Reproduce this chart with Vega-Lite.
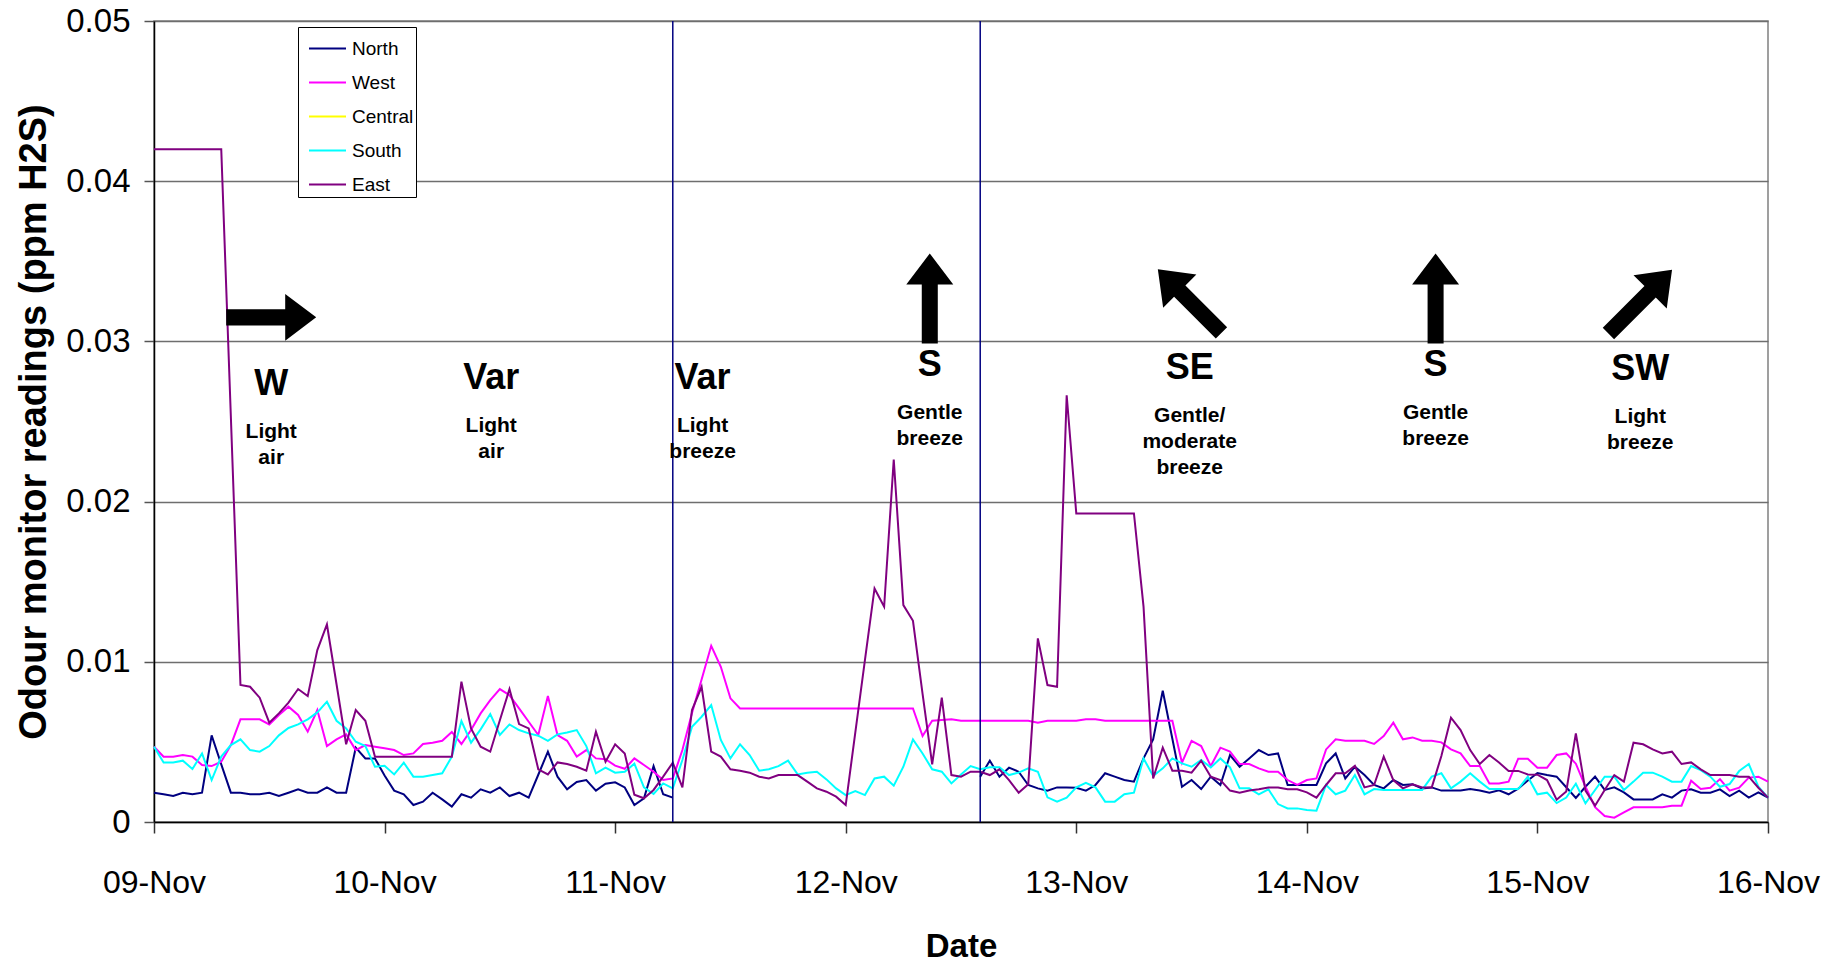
{
  "$schema": "https://vega.github.io/schema/vega-lite/v6.json",
  "width": 1614,
  "height": 801,
  "autosize": {"type": "none"},
  "padding": {"left": 154, "top": 21, "right": 70, "bottom": 140},
  "background": "white",
  "config": {
    "font": "Liberation Sans",
    "view": {"stroke": "#808080", "strokeWidth": 1.5},
    "axis": {"labelColor": "#000", "titleColor": "#000", "labelFont": "Liberation Sans", "titleFont": "Liberation Sans"},
    "legend": {"labelFont": "Liberation Sans"}
  },
  "datasets": {
    "readings": [
      {"d":"2008-11-09T00:00","North":0.00183,"West":0.0047,"South":0.0047,"East":0.042},
      {"d":"2008-11-09T01:00","North":0.00173,"West":0.00408,"South":0.00372,"East":0.042},
      {"d":"2008-11-09T02:00","North":0.00162,"West":0.00408,"South":0.00372,"East":0.042},
      {"d":"2008-11-09T03:00","North":0.00183,"West":0.00418,"South":0.00383,"East":0.042},
      {"d":"2008-11-09T04:00","North":0.00173,"West":0.00408,"South":0.00331,"East":0.042},
      {"d":"2008-11-09T05:00","North":0.00183,"West":0.00356,"South":0.00428,"East":0.042},
      {"d":"2008-11-09T06:00","North":0.00541,"West":0.00349,"South":0.00262,"East":0.042},
      {"d":"2008-11-09T07:00","North":0.0036,"West":0.00376,"South":0.00408,"East":0.042},
      {"d":"2008-11-09T08:00","North":0.00183,"West":0.0048,"South":0.0048,"East":0.0253},
      {"d":"2008-11-09T09:00","North":0.00183,"West":0.00641,"South":0.00516,"East":0.00855},
      {"d":"2008-11-09T10:00","North":0.00173,"West":0.00641,"South":0.00449,"East":0.00844},
      {"d":"2008-11-09T11:00","North":0.00173,"West":0.00641,"South":0.00439,"East":0.00776},
      {"d":"2008-11-09T12:00","North":0.00183,"West":0.00609,"South":0.00474,"East":0.0062},
      {"d":"2008-11-09T13:00","North":0.00162,"West":0.00668,"South":0.00541,"East":0.00678},
      {"d":"2008-11-09T14:00","North":0.00183,"West":0.0072,"South":0.00587,"East":0.00745},
      {"d":"2008-11-09T15:00","North":0.00204,"West":0.00668,"South":0.00609,"East":0.0083},
      {"d":"2008-11-09T16:00","North":0.00183,"West":0.00564,"South":0.00641,"East":0.00786},
      {"d":"2008-11-09T17:00","North":0.00183,"West":0.00699,"South":0.00684,"East":0.01073},
      {"d":"2008-11-09T18:00","North":0.00216,"West":0.00474,"South":0.00751,"East":0.01233},
      {"d":"2008-11-09T19:00","North":0.00183,"West":0.00516,"South":0.00632,"East":0.0086},
      {"d":"2008-11-09T20:00","North":0.00183,"West":0.00547,"South":0.00584,"East":0.00485},
      {"d":"2008-11-09T21:00","North":0.00464,"West":0.00449,"South":0.00501,"East":0.00699},
      {"d":"2008-11-09T22:00","North":0.00397,"West":0.0048,"South":0.00474,"East":0.00632},
      {"d":"2008-11-09T23:00","North":0.00397,"West":0.0047,"South":0.00345,"East":0.00408},
      {"d":"2008-11-10T00:00","North":0.0029,"West":0.0046,"South":0.00351,"East":0.00408},
      {"d":"2008-11-10T01:00","North":0.00196,"West":0.00449,"South":0.00297,"East":0.00408},
      {"d":"2008-11-10T02:00","North":0.00173,"West":0.00418,"South":0.0037,"East":0.00408},
      {"d":"2008-11-10T03:00","North":0.00106,"West":0.00428,"South":0.00283,"East":0.00408},
      {"d":"2008-11-10T04:00","North":0.00127,"West":0.00487,"South":0.00283,"East":0.00408},
      {"d":"2008-11-10T05:00","North":0.00183,"West":0.00495,"South":0.00293,"East":0.00408},
      {"d":"2008-11-10T06:00","North":0.00141,"West":0.00507,"South":0.00304,"East":0.00408},
      {"d":"2008-11-10T07:00","North":0.00096,"West":0.00562,"South":0.00408,"East":0.00408},
      {"d":"2008-11-10T08:00","North":0.00173,"West":0.00487,"South":0.0063,"East":0.00876},
      {"d":"2008-11-10T09:00","North":0.00152,"West":0.00574,"South":0.00495,"East":0.00584},
      {"d":"2008-11-10T10:00","North":0.00204,"West":0.00678,"South":0.00578,"East":0.0047},
      {"d":"2008-11-10T11:00","North":0.00183,"West":0.00761,"South":0.00674,"East":0.00439},
      {"d":"2008-11-10T12:00","North":0.00216,"West":0.0083,"South":0.00543,"East":0.00635},
      {"d":"2008-11-10T13:00","North":0.00162,"West":0.00792,"South":0.00609,"East":0.0083},
      {"d":"2008-11-10T14:00","North":0.00183,"West":0.00709,"South":0.00574,"East":0.00611},
      {"d":"2008-11-10T15:00","North":0.00152,"West":0.00626,"South":0.00553,"East":0.00584},
      {"d":"2008-11-10T16:00","North":0.00295,"West":0.00543,"South":0.00539,"East":0.00329},
      {"d":"2008-11-10T17:00","North":0.00439,"West":0.00786,"South":0.00507,"East":0.00297},
      {"d":"2008-11-10T18:00","North":0.00283,"West":0.00543,"South":0.00547,"East":0.00372},
      {"d":"2008-11-10T19:00","North":0.00204,"West":0.00507,"South":0.00559,"East":0.00362},
      {"d":"2008-11-10T20:00","North":0.0025,"West":0.00408,"South":0.00574,"East":0.00345},
      {"d":"2008-11-10T21:00","North":0.00262,"West":0.00449,"South":0.00474,"East":0.0032},
      {"d":"2008-11-10T22:00","North":0.00196,"West":0.00397,"South":0.00304,"East":0.00564},
      {"d":"2008-11-10T23:00","North":0.00239,"West":0.00392,"South":0.00339,"East":0.00376},
      {"d":"2008-11-11T00:00","North":0.00248,"West":0.00352,"South":0.00308,"East":0.00485},
      {"d":"2008-11-11T01:00","North":0.00216,"West":0.00332,"South":0.00314,"East":0.00428},
      {"d":"2008-11-11T02:00","North":0.00106,"West":0.00397,"South":0.00364,"East":0.0017},
      {"d":"2008-11-11T03:00","North":0.00148,"West":0.00356,"South":0.00216,"East":0.00148},
      {"d":"2008-11-11T04:00","North":0.00349,"West":0.00314,"South":0.00175,"East":0.002},
      {"d":"2008-11-11T05:00","North":0.00173,"West":0.00262,"South":0.00241,"East":0.00283},
      {"d":"2008-11-11T06:00","North":0.00152,"West":0.00272,"South":0.0021,"East":0.0037},
      {"d":"2008-11-11T07:00","North":null,"West":0.00449,"South":0.00387,"East":0.00216},
      {"d":"2008-11-11T08:00","North":null,"West":0.0068,"South":0.00595,"East":0.00699},
      {"d":"2008-11-11T09:00","North":null,"West":0.0089,"South":0.00657,"East":0.00844},
      {"d":"2008-11-11T10:00","North":null,"West":0.011,"South":0.0073,"East":0.00439},
      {"d":"2008-11-11T11:00","North":null,"West":0.00969,"South":0.00512,"East":0.00408},
      {"d":"2008-11-11T12:00","North":null,"West":0.00772,"South":0.00397,"East":0.00329},
      {"d":"2008-11-11T13:00","North":null,"West":0.00709,"South":0.00485,"East":0.0032},
      {"d":"2008-11-11T14:00","North":null,"West":0.00709,"South":0.00418,"East":0.00308},
      {"d":"2008-11-11T15:00","North":null,"West":0.00709,"South":0.0032,"East":0.00283},
      {"d":"2008-11-11T16:00","North":null,"West":0.00709,"South":0.00329,"East":0.00272},
      {"d":"2008-11-11T17:00","North":null,"West":0.00709,"South":0.00349,"East":0.00293},
      {"d":"2008-11-11T18:00","North":null,"West":0.00709,"South":0.00383,"East":0.00293},
      {"d":"2008-11-11T19:00","North":null,"West":0.00709,"South":0.00297,"East":0.00293},
      {"d":"2008-11-11T20:00","North":null,"West":0.00709,"South":0.00308,"East":0.00252},
      {"d":"2008-11-11T21:00","North":null,"West":0.00709,"South":0.00314,"East":0.0021},
      {"d":"2008-11-11T22:00","North":null,"West":0.00709,"South":0.00266,"East":0.00189},
      {"d":"2008-11-11T23:00","North":null,"West":0.00709,"South":0.0021,"East":0.00158},
      {"d":"2008-11-12T00:00","North":null,"West":0.00709,"South":0.00168,"East":0.00106},
      {"d":"2008-11-12T01:00","North":null,"West":0.00709,"South":0.00193,"East":0.0056},
      {"d":"2008-11-12T02:00","North":null,"West":0.00709,"South":0.00168,"East":0.0101},
      {"d":"2008-11-12T03:00","North":null,"West":0.00709,"South":0.00272,"East":0.01458},
      {"d":"2008-11-12T04:00","North":null,"West":0.00709,"South":0.00283,"East":0.01344},
      {"d":"2008-11-12T05:00","North":null,"West":0.00709,"South":0.00227,"East":0.02263},
      {"d":"2008-11-12T06:00","North":null,"West":0.00709,"South":0.00345,"East":0.01354},
      {"d":"2008-11-12T07:00","North":null,"West":0.00709,"South":0.00516,"East":0.01256},
      {"d":"2008-11-12T08:00","North":null,"West":0.00537,"South":0.00428,"East":0.008},
      {"d":"2008-11-12T09:00","North":null,"West":0.00632,"South":0.00329,"East":0.0036},
      {"d":"2008-11-12T10:00","North":null,"West":0.00636,"South":0.00314,"East":0.00776},
      {"d":"2008-11-12T11:00","North":null,"West":0.00641,"South":0.00241,"East":0.00293},
      {"d":"2008-11-12T12:00","North":null,"West":0.00632,"South":0.00297,"East":0.00283},
      {"d":"2008-11-12T13:00","North":null,"West":0.00632,"South":0.00349,"East":0.00314},
      {"d":"2008-11-12T14:00","North":0.00283,"West":0.00632,"South":0.00329,"East":0.00314},
      {"d":"2008-11-12T15:00","North":0.00383,"West":0.00632,"South":0.00341,"East":0.00293},
      {"d":"2008-11-12T16:00","North":0.00283,"West":0.00632,"South":0.00341,"East":0.00329},
      {"d":"2008-11-12T17:00","North":0.00339,"West":0.00632,"South":0.00293,"East":0.00262},
      {"d":"2008-11-12T18:00","North":0.00314,"West":0.00632,"South":0.00308,"East":0.00183},
      {"d":"2008-11-12T19:00","North":0.00231,"West":0.00632,"South":0.00335,"East":0.00235},
      {"d":"2008-11-12T20:00","North":0.0021,"West":0.0062,"South":0.00314,"East":0.01146},
      {"d":"2008-11-12T21:00","North":0.00196,"West":0.00632,"South":0.00154,"East":0.00855},
      {"d":"2008-11-12T22:00","North":0.00216,"West":0.00632,"South":0.00127,"East":0.00844},
      {"d":"2008-11-12T23:00","North":0.00216,"West":0.00632,"South":0.00152,"East":0.02664},
      {"d":"2008-11-13T00:00","North":0.00214,"West":0.00632,"South":0.00216,"East":0.01926},
      {"d":"2008-11-13T01:00","North":0.00196,"West":0.00641,"South":0.00245,"East":0.01926},
      {"d":"2008-11-13T02:00","North":0.00231,"West":0.00641,"South":0.00216,"East":0.01926},
      {"d":"2008-11-13T03:00","North":0.00304,"West":0.00632,"South":0.00127,"East":0.01926},
      {"d":"2008-11-13T04:00","North":0.00283,"West":0.00632,"South":0.00127,"East":0.01926},
      {"d":"2008-11-13T05:00","North":0.00262,"West":0.00632,"South":0.00173,"East":0.01926},
      {"d":"2008-11-13T06:00","North":0.00252,"West":0.00632,"South":0.00183,"East":0.01926},
      {"d":"2008-11-13T07:00","North":0.00397,"West":0.00632,"South":0.00397,"East":0.01344},
      {"d":"2008-11-13T08:00","North":0.00516,"West":0.00632,"South":0.00287,"East":0.00272},
      {"d":"2008-11-13T09:00","North":0.00819,"West":0.00632,"South":0.00335,"East":0.00464},
      {"d":"2008-11-13T10:00","North":0.0052,"West":0.00632,"South":0.00397,"East":0.0032},
      {"d":"2008-11-13T11:00","North":0.0022,"West":0.0037,"South":0.00366,"East":0.0032},
      {"d":"2008-11-13T12:00","North":0.00262,"West":0.00507,"South":0.00345,"East":0.00308},
      {"d":"2008-11-13T13:00","North":0.00206,"West":0.00474,"South":0.00387,"East":0.00383},
      {"d":"2008-11-13T14:00","North":0.00283,"West":0.00349,"South":0.00341,"East":0.00283},
      {"d":"2008-11-13T15:00","North":0.00231,"West":0.00464,"South":0.00397,"East":0.00262},
      {"d":"2008-11-13T16:00","North":0.00418,"West":0.00439,"South":0.00341,"East":0.00196},
      {"d":"2008-11-13T17:00","North":0.00345,"West":0.00362,"South":0.0021,"East":0.00183},
      {"d":"2008-11-13T18:00","North":0.00397,"West":0.00362,"South":0.0021,"East":0.00196},
      {"d":"2008-11-13T19:00","North":0.00449,"West":0.00335,"South":0.00173,"East":0.00204},
      {"d":"2008-11-13T20:00","North":0.00418,"West":0.00314,"South":0.00204,"East":0.00216},
      {"d":"2008-11-13T21:00","North":0.00428,"West":0.00314,"South":0.00112,"East":0.00216},
      {"d":"2008-11-13T22:00","North":0.00231,"West":0.00262,"South":0.00085,"East":0.00204},
      {"d":"2008-11-13T23:00","North":0.00231,"West":0.00231,"South":0.00085,"East":0.00204},
      {"d":"2008-11-14T00:00","North":0.00231,"West":0.00262,"South":0.00075,"East":0.00185},
      {"d":"2008-11-14T01:00","North":0.00231,"West":0.00272,"South":0.00071,"East":0.00152},
      {"d":"2008-11-14T02:00","North":0.00366,"West":0.00453,"South":0.00231,"East":0.00231},
      {"d":"2008-11-14T03:00","North":0.00428,"West":0.00516,"South":0.00173,"East":0.00304},
      {"d":"2008-11-14T04:00","North":0.00272,"West":0.00507,"South":0.00196,"East":0.00304},
      {"d":"2008-11-14T05:00","North":0.00345,"West":0.00507,"South":0.00293,"East":0.00351},
      {"d":"2008-11-14T06:00","North":0.00293,"West":0.00507,"South":0.00173,"East":0.00216},
      {"d":"2008-11-14T07:00","North":0.00231,"West":0.00487,"South":0.00206,"East":0.00231},
      {"d":"2008-11-14T08:00","North":0.0021,"West":0.00537,"South":0.002,"East":0.00408},
      {"d":"2008-11-14T09:00","North":0.00262,"West":0.0062,"South":0.002,"East":0.00262},
      {"d":"2008-11-14T10:00","North":0.00231,"West":0.00516,"South":0.002,"East":0.0021},
      {"d":"2008-11-14T11:00","North":0.00235,"West":0.00528,"South":0.002,"East":0.00235},
      {"d":"2008-11-14T12:00","North":0.0021,"West":0.00507,"South":0.002,"East":0.00216},
      {"d":"2008-11-14T13:00","North":0.00216,"West":0.00507,"South":0.00283,"East":0.00216},
      {"d":"2008-11-14T14:00","North":0.00196,"West":0.00497,"South":0.00304,"East":0.00412},
      {"d":"2008-11-14T15:00","North":0.00196,"West":0.00453,"South":0.0021,"East":0.00651},
      {"d":"2008-11-14T16:00","North":0.00196,"West":0.00428,"South":0.00252,"East":0.00574},
      {"d":"2008-11-14T17:00","North":0.00206,"West":0.00349,"South":0.00304,"East":0.00449},
      {"d":"2008-11-14T18:00","North":0.00196,"West":0.00349,"South":0.00252,"East":0.00362},
      {"d":"2008-11-14T19:00","North":0.00183,"West":0.00241,"South":0.00206,"East":0.00418},
      {"d":"2008-11-14T20:00","North":0.00198,"West":0.0024,"South":0.00206,"East":0.00371},
      {"d":"2008-11-14T21:00","North":0.00173,"West":0.00252,"South":0.00206,"East":0.00319},
      {"d":"2008-11-14T22:00","North":0.00208,"West":0.00395,"South":0.00206,"East":0.00319},
      {"d":"2008-11-14T23:00","North":0.00259,"West":0.00395,"South":0.00283,"East":0.00297},
      {"d":"2008-11-15T00:00","North":0.00306,"West":0.00339,"South":0.00173,"East":0.00295},
      {"d":"2008-11-15T01:00","North":0.00293,"West":0.00339,"South":0.00183,"East":0.00262},
      {"d":"2008-11-15T02:00","North":0.00283,"West":0.00418,"South":0.00118,"East":0.00139},
      {"d":"2008-11-15T03:00","North":0.00217,"West":0.00428,"South":0.00153,"East":0.00191},
      {"d":"2008-11-15T04:00","North":0.0015,"West":0.00364,"South":0.00239,"East":0.00553},
      {"d":"2008-11-15T05:00","North":0.0022,"West":0.0022,"South":0.00116,"East":0.00196},
      {"d":"2008-11-15T06:00","North":0.00283,"West":0.00092,"South":0.002,"East":0.00102},
      {"d":"2008-11-15T07:00","North":0.002,"West":0.00037,"South":0.00283,"East":0.002},
      {"d":"2008-11-15T08:00","North":0.00216,"West":0.00027,"South":0.00283,"East":0.00293},
      {"d":"2008-11-15T09:00","North":0.00185,"West":0.0006,"South":0.002,"East":0.00252},
      {"d":"2008-11-15T10:00","North":0.00141,"West":0.00092,"South":0.00252,"East":0.00495},
      {"d":"2008-11-15T11:00","North":0.00141,"West":0.00092,"South":0.00308,"East":0.00485},
      {"d":"2008-11-15T12:00","North":0.00141,"West":0.00092,"South":0.00308,"East":0.00453},
      {"d":"2008-11-15T13:00","North":0.00173,"West":0.00092,"South":0.00283,"East":0.00428},
      {"d":"2008-11-15T14:00","North":0.00152,"West":0.00102,"South":0.00252,"East":0.00439},
      {"d":"2008-11-15T15:00","North":0.00196,"West":0.00102,"South":0.00252,"East":0.00362},
      {"d":"2008-11-15T16:00","North":0.00204,"West":0.00258,"South":0.00349,"East":0.00372},
      {"d":"2008-11-15T17:00","North":0.00183,"West":0.00206,"South":0.00324,"East":0.00329},
      {"d":"2008-11-15T18:00","North":0.00183,"West":0.00214,"South":0.00283,"East":0.00293},
      {"d":"2008-11-15T19:00","North":0.00204,"West":0.00268,"South":0.0022,"East":0.00293},
      {"d":"2008-11-15T20:00","North":0.00162,"West":0.00196,"South":0.00237,"East":0.00293},
      {"d":"2008-11-15T21:00","North":0.00196,"West":0.00214,"South":0.00318,"East":0.00283},
      {"d":"2008-11-15T22:00","North":0.00152,"West":0.00277,"South":0.00362,"East":0.00283},
      {"d":"2008-11-15T23:00","North":0.00185,"West":0.00283,"South":0.0022,"East":0.00214},
      {"d":"2008-11-16T00:00","North":0.00152,"West":0.00252,"South":0.00152,"East":0.00152}
    ],
    "markers": [
      {"d": "2008-11-11T06:00"},
      {"d": "2008-11-12T14:00"}
    ],
    "winds": [
      {"d": "2008-11-09T12:12", "v": 0.0315, "wind": "W", "from": 270, "desc": "Light\nair"},
      {"d": "2008-11-10T11:06", "v": 0.03192, "wind": "Var", "from": null, "desc": "Light\nair"},
      {"d": "2008-11-11T09:06", "v": 0.03192, "wind": "Var", "from": null, "desc": "Light\nbreeze"},
      {"d": "2008-11-12T08:45", "v": 0.03268, "wind": "S", "from": 180, "desc": "Gentle\nbreeze"},
      {"d": "2008-11-13T11:48", "v": 0.03252, "wind": "SE", "from": 135, "desc": "Gentle/\nmoderate\nbreeze"},
      {"d": "2008-11-14T13:24", "v": 0.03268, "wind": "S", "from": 180, "desc": "Gentle\nbreeze"},
      {"d": "2008-11-15T10:42", "v": 0.03248, "wind": "SW", "from": 225, "desc": "Light\nbreeze"}
    ]
  },
  "layer": [
    {
      "data": {"name": "readings"},
      "transform": [{"fold": ["North", "West", "South", "East"], "as": ["site", "ppm"]}],
      "mark": {"type": "line", "strokeWidth": 2, "interpolate": "linear"},
      "encoding": {
        "x": {
          "field": "d", "type": "temporal", "title": "Date",
          "scale": {"domain": [{"year": 2008, "month": 11, "date": 9}, {"year": 2008, "month": 11, "date": 16}]},
          "axis": {
            "format": "%d-%b", "tickCount": {"interval": "day", "step": 1}, "grid": false,
            "labelFontSize": 32, "labelPadding": 34, "labelFlush": false, "labelOverlap": false,
            "tickSize": 11, "tickColor": "#333", "tickWidth": 1.5,
            "domainColor": "#000", "domainWidth": 1.5,
            "titleFontSize": 33, "titleFontWeight": "bold", "titleY": 134, "titleBaseline": "alphabetic"
          }
        },
        "y": {
          "field": "ppm", "type": "quantitative", "title": "Odour monitor readings (ppm  H2S)",
          "scale": {"domain": [0, 0.05], "nice": false, "zero": true},
          "axis": {
            "values": [0, 0.01, 0.02, 0.03, 0.04, 0.05], "format": ".2~f",
            "labelFontSize": 33, "labelPadding": 14, "tickSize": 10, "tickColor": "#555", "tickWidth": 1.5,
            "gridColor": "#6e6e6e", "gridWidth": 1.5, "domainColor": "#000", "domainWidth": 1.5,
            "titleFontSize": 38, "titleFontWeight": "bold", "titleX": -109, "titleBaseline": "alphabetic"
          }
        },
        "color": {
          "field": "site", "type": "nominal", "title": null,
          "scale": {"domain": ["North", "West", "Central", "South", "East"], "range": ["#000080", "#FF00FF", "#FFFF00", "#00FFFF", "#800080"]},
          "legend": {
            "orient": "none", "legendX": 144, "legendY": 6,
            "symbolType": "stroke", "symbolSize": 1369, "symbolStrokeWidth": 2, "symbolOffset": 8,
            "labelFontSize": 19, "labelOffset": 5, "labelColor": "#000",
            "rowPadding": 4, "padding": 2, "strokeColor": "#000", "fillColor": "#fff"
          }
        }
      }
    },
    {
      "data": {"name": "markers"},
      "mark": {"type": "rule", "color": "#000080", "strokeWidth": 1.5},
      "encoding": {"x": {"field": "d", "type": "temporal"}}
    },
    {
      "data": {"name": "winds"},
      "transform": [{"filter": "isValid(datum.from)"}],
      "mark": {"type": "point", "filled": true, "color": "#000", "opacity": 1, "size": 8100,
               "shape": "M0,-1L0.522,-0.311L0.178,-0.311L0.178,1L-0.178,1L-0.178,-0.311L-0.522,-0.311Z"},
      "encoding": {
        "x": {"field": "d", "type": "temporal"},
        "y": {"field": "v", "type": "quantitative"},
        "angle": {"field": "from", "type": "quantitative", "scale": {"domain": [0, 360], "range": [180, 540], "nice": false, "zero": false}, "legend": null}
      }
    },
    {
      "data": {"name": "winds"},
      "mark": {"type": "text", "fontSize": 36, "fontWeight": "bold", "color": "#000", "align": "center", "baseline": "alphabetic", "dy": 78},
      "encoding": {
        "x": {"field": "d", "type": "temporal"},
        "y": {"field": "v", "type": "quantitative"},
        "text": {"field": "wind"}
      }
    },
    {
      "data": {"name": "winds"},
      "mark": {"type": "text", "fontSize": 21, "fontWeight": "bold", "color": "#000", "align": "center", "baseline": "alphabetic", "dy": 121, "lineBreak": "\n", "lineHeight": 26},
      "encoding": {
        "x": {"field": "d", "type": "temporal"},
        "y": {"field": "v", "type": "quantitative"},
        "text": {"field": "desc"}
      }
    }
  ]
}
